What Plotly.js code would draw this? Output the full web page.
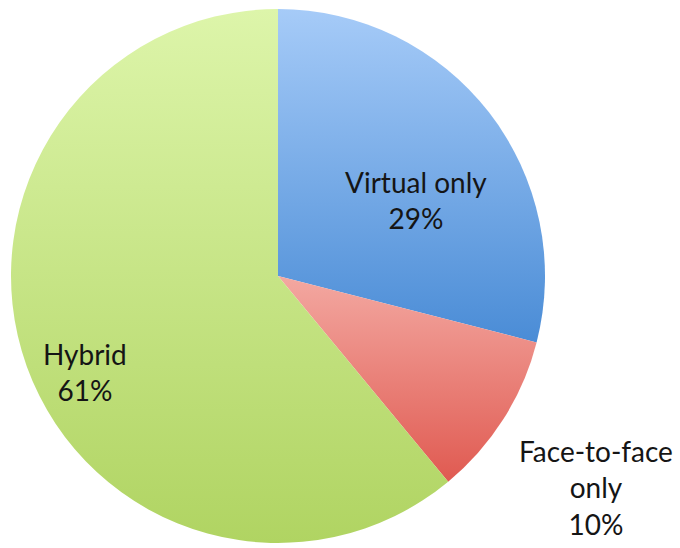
<!DOCTYPE html>
<html>
<head>
<meta charset="utf-8">
<script src="https://cdn.plot.ly/plotly-3.0.1.min.js"></script>
<style>
  html, body { margin: 0; padding: 0; background: #ffffff; }
  #chart { width: 680px; height: 548px; }
</style>
</head>
<body>
<div id="chart"></div>
<script>
const categories = ["Virtual only", "Face-to-face only", "Hybrid"];
const values = [29, 10, 61];
const labelLines = [["Virtual only"], ["Face-to-face", "only"], ["Hybrid"]];
const baseColors = ["#77a9e8", "#ea827a", "#c7e585"];
const gradTop = ["#a6cbf8", "#f3a8a1", "#ddf5aa"];
const gradBottom = ["#4a8cd6", "#e05a51", "#b0d462"];

const labelPos = [
  {x: 416, y: 200},
  {x: 596, y: 487},
  {x: 85, y: 372}
];

const W = 680, H = 548;
const cx = 278, cy = 276, r = 267;

const total = values.reduce((a, b) => a + b, 0);
const annotations = categories.map((c, i) => {
  const pct = Math.round(values[i] / total * 100) + "%";
  return {
    xref: "paper", yref: "paper",
    x: labelPos[i].x / W, y: 1 - labelPos[i].y / H,
    xanchor: "center", yanchor: "middle",
    text: labelLines[i].concat([pct]).join("<br>"),
    showarrow: false,
    align: "center",
    font: {family: "Lato, 'Open Sans', sans-serif", size: 28, color: "#151515"}
  };
});

const data = [{
  type: "pie",
  labels: categories,
  values: values,
  sort: false,
  direction: "clockwise",
  rotation: 0,
  textinfo: "none",
  hoverinfo: "label+percent",
  marker: {colors: baseColors, line: {width: 0}},
  domain: {x: [(cx - r) / W, (cx + r) / W], y: [1 - (cy + r) / H, 1 - (cy - r) / H]},
  showlegend: false
}];

const layout = {
  width: W, height: H,
  margin: {l: 0, r: 0, t: 0, b: 0},
  paper_bgcolor: "#ffffff",
  plot_bgcolor: "#ffffff",
  showlegend: false,
  annotations: annotations
};

Plotly.newPlot("chart", data, layout, {displayModeBar: false, staticPlot: true}).then(function (gd) {
  const svg = gd.querySelector("svg.main-svg");
  const NS = "http://www.w3.org/2000/svg";
  let defs = svg.querySelector("defs");
  if (!defs) { defs = document.createElementNS(NS, "defs"); svg.insertBefore(defs, svg.firstChild); }
  categories.forEach((c, i) => {
    const g = document.createElementNS(NS, "linearGradient");
    g.setAttribute("id", "sliceGrad" + i);
    g.setAttribute("x1", "0"); g.setAttribute("y1", "0");
    g.setAttribute("x2", "0"); g.setAttribute("y2", "1");
    const s1 = document.createElementNS(NS, "stop");
    s1.setAttribute("offset", "0"); s1.setAttribute("stop-color", gradTop[i]);
    const s2 = document.createElementNS(NS, "stop");
    s2.setAttribute("offset", "1"); s2.setAttribute("stop-color", gradBottom[i]);
    g.appendChild(s1); g.appendChild(s2);
    defs.appendChild(g);
  });
  const slices = gd.querySelectorAll("g.slice path.surface");
  slices.forEach((p, i) => {
    p.style.fill = "url(#sliceGrad" + i + ")";
  });
});
</script>
</body>
</html>
